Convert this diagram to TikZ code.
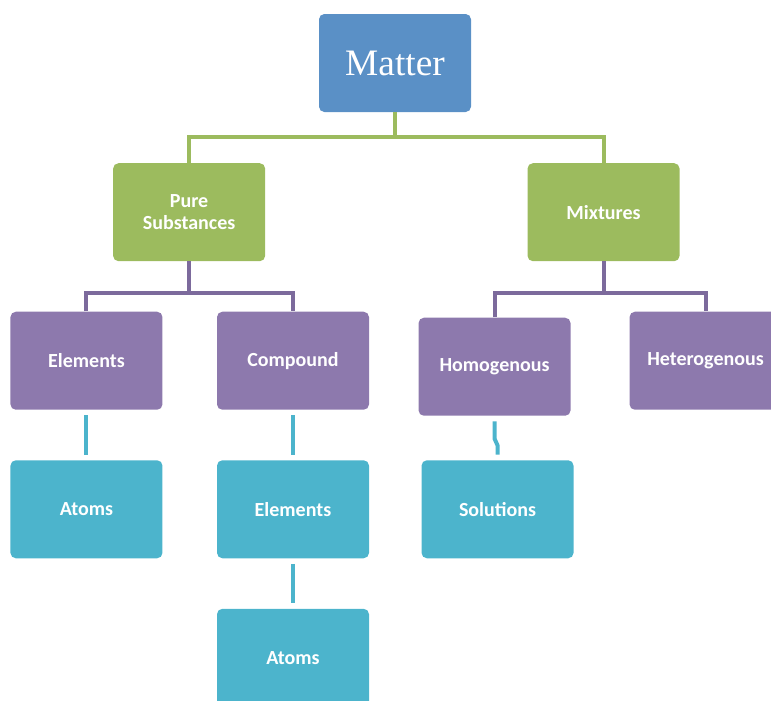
\documentclass[tikz,border=0pt]{standalone}
\usepackage{fontspec}
\setmainfont{Carlito}
\newfontfamily\matterfont{Liberation Serif}
\usetikzlibrary{positioning,calc}
\definecolor{matterBlue}{RGB}{90,144,198}
\definecolor{leafGreen}{RGB}{156,187,94}
\definecolor{plumPurple}{RGB}{141,121,173}
\definecolor{plumLine}{RGB}{124,106,156}
\definecolor{aquaTeal}{RGB}{76,180,204}
\tikzset{
  concept node/.style={rounded corners=4pt,align=center,text=white,font=\fontsize{15}{17}\selectfont\bfseries,minimum width=114pt,minimum height=73.5pt,inner sep=0pt},
  concept node blue/.style={concept node,fill=matterBlue,font=\fontsize{28}{32}\selectfont\matterfont},
  concept node green/.style={concept node,fill=leafGreen},
  concept node purple/.style={concept node,fill=plumPurple},
  concept node teal/.style={concept node,fill=aquaTeal},
  concept link green/.style={line width=3pt,draw=leafGreen},
  concept link purple/.style={line width=3pt,draw=plumLine},
  concept link teal/.style={line width=3pt,draw=aquaTeal,shorten <=4pt,shorten >=4pt}
}

\begin{document}
\begin{tikzpicture}[node distance=37.5pt and 40.5pt]
  \useasboundingbox (0,0) rectangle (578.25pt,-525pt);
  \node[concept node blue] (matter) at (296.25pt,-47.25pt) {Matter};
  \node[concept node green,below left=38pt and 40pt of matter] (pure) {Pure\\Substances};
  \node[concept node green,below right=38pt and 42pt of matter] (mixtures) {Mixtures};
  % second row
  \node[concept node purple,below=of pure,xshift=-77pt] (elements) {Elements};
  \node[concept node purple,right=of elements] (compound) {Compound};
  \node[concept node purple,below=of mixtures,xshift=-81.75pt,yshift=-4.5pt] (homogenous) {Homogenous};
  \node[concept node purple,below=of mixtures,xshift=76.5pt] (heterogenous) {Heterogenous};
  % third and fourth row
  \node[concept node teal,below=of elements] (atoms) {Atoms};
  \node[concept node teal,below=of compound] (compelements) {Elements};
  \node[concept node teal,below=of compelements] (compatoms) {Atoms};
  \node[concept node teal,below=33pt of homogenous,xshift=2.25pt] (solutions) {Solutions};
  % links
  \coordinate[below=18.75pt of matter] (matterfork);
  \coordinate[below=23.5pt of pure] (purefork);
  \coordinate[below=23.5pt of mixtures] (mixturesfork);
  \draw[concept link green] (matter.south) -- (matterfork);
  \draw[concept link green] (pure.north) |- (matterfork) -| (mixtures.north);
  \draw[concept link purple] (pure.south) -- (purefork);
  \draw[concept link purple] (elements.north) |- (purefork) -| (compound.north);
  \draw[concept link purple] (mixtures.south) -- (mixturesfork);
  \draw[concept link purple] (homogenous.north) |- (mixturesfork) -| (heterogenous.north);
  \draw[concept link teal] (elements) -- (atoms);
  \draw[concept link teal] (compound) -- (compelements);
  \draw[concept link teal] (compelements) -- (compatoms);
  \draw[concept link teal,shorten >=0pt] (homogenous.south) -- ++(0,-17pt) -- ++(2.25pt,-5pt) -- ([yshift=4pt]solutions.north);
\end{tikzpicture}
\end{document}
